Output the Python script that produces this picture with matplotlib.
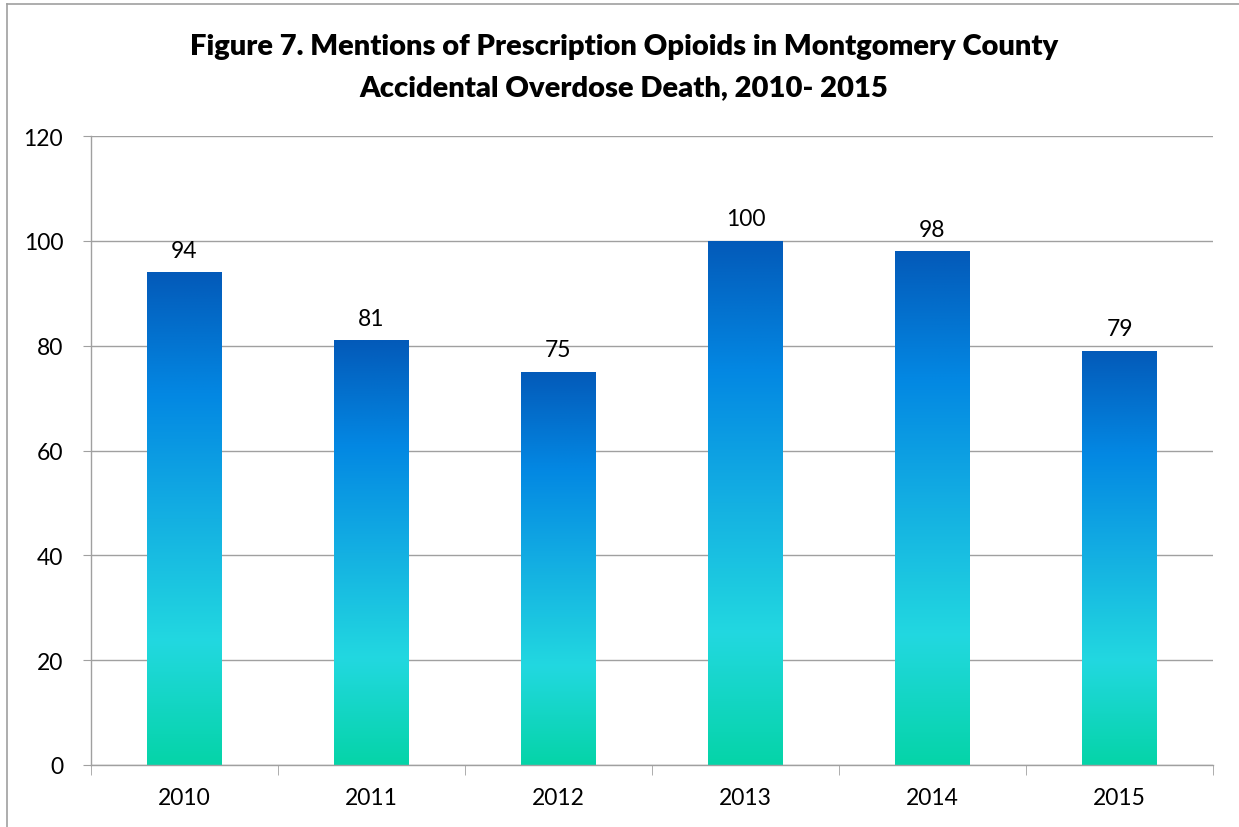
import numpy as np
import matplotlib.pyplot as plt
from matplotlib.colors import LinearSegmentedColormap
from matplotlib.lines import Line2D

years = ['2010', '2011', '2012', '2013', '2014', '2015']
mentions = [94, 81, 75, 100, 98, 79]
y_ticks = [0, 20, 40, 60, 80, 100, 120]

plt.rcParams['font.family'] = ['Lato', 'DejaVu Sans']

# bottom -> top gradient used inside each bar
grad = LinearSegmentedColormap.from_list(
    'bar_grad', [(0.0, '#05d4a8'), (0.25, '#22d8e0'), (0.5, '#14b0e2'),
                 (0.75, '#0388e3'), (1.0, '#035ab9')])

fig = plt.figure(figsize=(12.39, 8.28), dpi=100)
ax = fig.add_axes([91 / 1239, 1 - 766 / 828, (1213 - 91) / 1239, (766 - 137) / 828])

x = np.arange(len(years))
bars = ax.bar(x, mentions, width=0.4, color='none', zorder=2)
g = np.linspace(0, 1, 256).reshape(-1, 1)
for b, v in zip(bars, mentions):
    x0 = b.get_x()
    im = ax.imshow(g, cmap=grad, origin='lower', aspect='auto',
                   extent=(x0, x0 + b.get_width(), 0, v), zorder=2)
    im.set_clip_path(b)
    ax.text(b.get_x() + b.get_width() / 2, v + 2.2, str(v),
            ha='center', va='bottom', fontsize=16.5)

ax.set_xlim(-0.5, len(years) - 0.5)
ax.set_ylim(0, 120)
ax.set_yticks(y_ticks)
ax.set_xticks(x)
ax.set_xticklabels(years)
ax.set_xticks(np.arange(-0.5, len(years)), minor=True)
ax.tick_params(axis='x', which='major', length=0, labelsize=16.5, pad=16)
ax.tick_params(axis='x', which='minor', length=7, color='#a0a0a0')
ax.tick_params(axis='y', length=6, color='#a0a0a0', labelsize=16.5, pad=14)
ax.grid(axis='y', color='#a0a0a0', lw=1, zorder=0)
ax.set_axisbelow(True)
for s in ['top', 'right']:
    ax.spines[s].set_visible(False)
for s in ['left', 'bottom']:
    ax.spines[s].set_color('#a0a0a0')
    ax.spines[s].set_linewidth(1)

fig.text(624 / 1239, 1 - 47 / 828, 'Figure 7. Mentions of Prescription Opioids in Montgomery County',
         ha='center', va='center', fontsize=21, fontweight='heavy')
fig.text(624 / 1239, 1 - 88 / 828, 'Accidental Overdose Death, 2010- 2015',
         ha='center', va='center', fontsize=21, fontweight='heavy')

# outer chart border (left and top visible)
fig.add_artist(Line2D([7 / 1239, 7 / 1239], [0, 1 - 5 / 828], color='#a0a0a0', lw=1.2))
fig.add_artist(Line2D([7 / 1239, 1], [1 - 5 / 828, 1 - 5 / 828], color='#a0a0a0', lw=1.2))

fig.savefig('out.png', dpi=100)
